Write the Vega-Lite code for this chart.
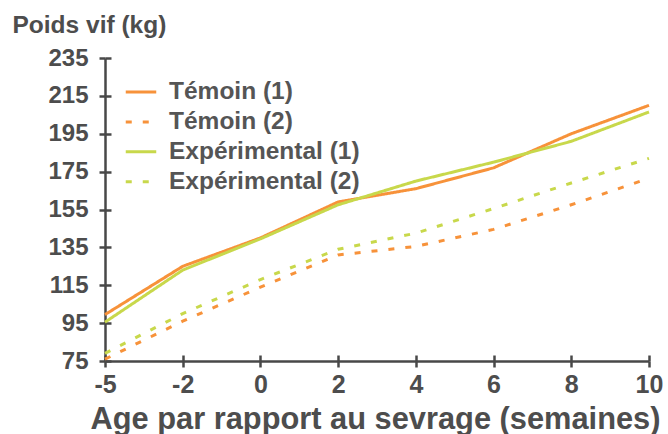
{
  "$schema": "https://vega.github.io/schema/vega-lite/v6.json",
  "width": 544,
  "height": 303,
  "autosize": {"type": "none"},
  "padding": {"left": 105, "top": 58, "right": 19, "bottom": 73},
  "background": "white",
  "config": {
    "view": {"stroke": null},
    "font": "Liberation Sans",
    "axis": {"grid": false}
  },
  "data": {
    "values": [
      {"age": -5, "serie": "Témoin (1)", "poids": 99.5},
      {"age": -2, "serie": "Témoin (1)", "poids": 125},
      {"age": 0, "serie": "Témoin (1)", "poids": 140},
      {"age": 2, "serie": "Témoin (1)", "poids": 159},
      {"age": 4, "serie": "Témoin (1)", "poids": 166},
      {"age": 6, "serie": "Témoin (1)", "poids": 177},
      {"age": 8, "serie": "Témoin (1)", "poids": 195},
      {"age": 10, "serie": "Témoin (1)", "poids": 210},
      {"age": -5, "serie": "Témoin (2)", "poids": 76},
      {"age": -2, "serie": "Témoin (2)", "poids": 96},
      {"age": 0, "serie": "Témoin (2)", "poids": 114},
      {"age": 2, "serie": "Témoin (2)", "poids": 131},
      {"age": 4, "serie": "Témoin (2)", "poids": 135.5},
      {"age": 6, "serie": "Témoin (2)", "poids": 144.5},
      {"age": 8, "serie": "Témoin (2)", "poids": 157.5},
      {"age": 10, "serie": "Témoin (2)", "poids": 171.5},
      {"age": -5, "serie": "Expérimental (1)", "poids": 95.5},
      {"age": -2, "serie": "Expérimental (1)", "poids": 123},
      {"age": 0, "serie": "Expérimental (1)", "poids": 139.5},
      {"age": 2, "serie": "Expérimental (1)", "poids": 157.5},
      {"age": 4, "serie": "Expérimental (1)", "poids": 170},
      {"age": 6, "serie": "Expérimental (1)", "poids": 180},
      {"age": 8, "serie": "Expérimental (1)", "poids": 191},
      {"age": 10, "serie": "Expérimental (1)", "poids": 206.5},
      {"age": -5, "serie": "Expérimental (2)", "poids": 79},
      {"age": -2, "serie": "Expérimental (2)", "poids": 100},
      {"age": 0, "serie": "Expérimental (2)", "poids": 118},
      {"age": 2, "serie": "Expérimental (2)", "poids": 134},
      {"age": 4, "serie": "Expérimental (2)", "poids": 142.5},
      {"age": 6, "serie": "Expérimental (2)", "poids": 155.5},
      {"age": 8, "serie": "Expérimental (2)", "poids": 169},
      {"age": 10, "serie": "Expérimental (2)", "poids": 182}
    ]
  },
  "resolve": {"axis": {"x": "independent", "y": "independent"}},
  "layer": [
    {
      "mark": {"type": "line", "strokeWidth": 3},
      "encoding": {
        "x": {
          "field": "age",
          "type": "ordinal",
          "sort": "ascending",
          "scale": {"type": "point", "padding": 0},
          "axis": {
            "orient": "bottom",
            "title": "Age par rapport au sevrage (semaines)",
            "titleFontSize": 30.8,
            "titleFontWeight": "bold",
            "titleColor": "#4D4D4D",
            "titleBaseline": "alphabetic",
            "titleY": 67,
            "titleX": 270,
            "labelAngle": 0,
            "labelFontSize": 25,
            "labelFontWeight": "bold",
            "labelColor": "#4D4D4D",
            "labelPadding": 5,
            "domainColor": "#484848",
            "domainWidth": 2.5,
            "tickColor": "#484848",
            "tickWidth": 2.5,
            "tickSize": 6
          }
        },
        "y": {
          "field": "poids",
          "type": "quantitative",
          "scale": {"domain": [75, 235], "nice": false, "zero": false},
          "axis": {
            "orient": "left",
            "values": [75, 95, 115, 135, 155, 175, 195, 215, 235],
            "title": "Poids vif (kg)",
            "titleAngle": 0,
            "titleAlign": "left",
            "titleBaseline": "alphabetic",
            "titleX": -93,
            "titleY": -26,
            "titleFontSize": 24.5,
            "titleFontWeight": "bold",
            "titleColor": "#4D4D4D",
            "labelFontSize": 24,
            "labelFontWeight": "bold",
            "labelColor": "#4D4D4D",
            "labelPadding": 11,
            "domainColor": "#484848",
            "domainWidth": 2.5,
            "tickColor": "#484848",
            "tickWidth": 2.5,
            "tickSize": 6
          }
        },
        "color": {
          "field": "serie",
          "type": "nominal",
          "scale": {
            "domain": ["Témoin (1)", "Témoin (2)", "Expérimental (1)", "Expérimental (2)"],
            "range": ["#F7923A", "#F7923A", "#C8D84B", "#C8D84B"]
          },
          "legend": {
            "title": null,
            "orient": "none",
            "legendX": 19,
            "legendY": 17,
            "padding": 0,
            "symbolType": "stroke",
            "symbolSize": 930,
            "symbolStrokeWidth": 3,
            "labelFontSize": 24.5,
            "labelFontWeight": "bold",
            "labelColor": "#555555",
            "labelOffset": 11,
            "labelLimit": 400,
            "rowPadding": 0.9
          }
        },
        "strokeDash": {
          "field": "serie",
          "type": "nominal",
          "scale": {
            "domain": ["Témoin (1)", "Témoin (2)", "Expérimental (1)", "Expérimental (2)"],
            "range": [[1, 0], [6, 11], [1, 0], [6, 11]]
          },
          "legend": null
        }
      }
    },
    {
      "mark": {"type": "point", "opacity": 0},
      "encoding": {
        "x": {
          "field": "age",
          "type": "ordinal",
          "sort": "ascending",
          "axis": {
            "orient": "bottom",
            "title": null,
            "labels": false,
            "domain": false,
            "tickColor": "#484848",
            "tickWidth": 2.5,
            "tickSize": -6
          }
        },
        "y": {
          "field": "poids",
          "type": "quantitative",
          "axis": {
            "orient": "left",
            "values": [75, 95, 115, 135, 155, 175, 195, 215, 235],
            "title": null,
            "labels": false,
            "domain": false,
            "tickColor": "#484848",
            "tickWidth": 2.5,
            "tickSize": -6
          }
        }
      }
    }
  ]
}
